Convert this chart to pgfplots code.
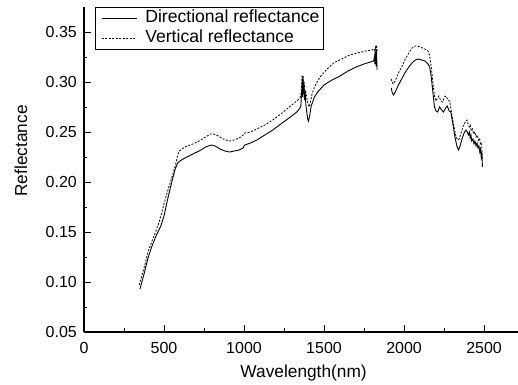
\documentclass[border=0pt]{standalone}
\usepackage{pgfplots}
\pgfplotsset{compat=1.18}
\usepackage{fontspec}
\setmainfont{Liberation Sans}
\begin{document}
\begin{tikzpicture}
\begin{axis}[
  scale only axis,
  width=434bp, height=325bp,
  xmin=0, xmax=2712, ymin=0.05, ymax=0.375,
  axis lines*=left,
  axis line style={line width=1.1bp},
  tick align=inside,
  major tick length=7bp, minor tick length=3.5bp,
  every tick/.style={black, line width=0.9bp},
  xtick={0,500,1000,1500,2000,2500},
  ytick={0.05,0.10,0.15,0.20,0.25,0.30,0.35},
  minor x tick num=1, minor y tick num=1,
  /pgf/number format/assume math mode=true,
  /pgf/number format/1000 sep={},
  yticklabel style={/pgf/number format/fixed, /pgf/number format/fixed zerofill, /pgf/number format/precision=2,
     font=\fontsize{16bp}{19bp}\selectfont, anchor=east, inner sep=0pt, xshift=-7bp},
  xticklabel style={font=\fontsize{16bp}{19bp}\selectfont, anchor=north, inner sep=0pt, yshift=-10bp},
  xlabel={Wavelength(nm)},
  ylabel={Reflectance},
  xlabel style={font=\fontsize{17.3bp}{20bp}\selectfont, at={(axis description cs:0.506,0)}, anchor=base, yshift=-45bp},
  ylabel style={font=\fontsize{17.3bp}{20bp}\selectfont, at={(axis description cs:-0.1313,0.557)}, anchor=base},
  unbounded coords=jump,
  legend cell align=left,
  legend style={at={(axis cs:0,0.375)}, anchor=north west, xshift=11bp,
     draw=black, line width=0.8bp, fill=white, inner xsep=2bp, inner ysep=1bp,
     font=\fontsize{17.6bp}{20bp}\selectfont, row sep=0bp, column sep=6bp,
     nodes={inner xsep=2bp, inner ysep=2bp, text height=12bp, text depth=4bp}},
  legend image code/.code={\path (0bp,0bp); \draw[#1] (4bp,0bp) -- (39bp,0bp);},
]
\addplot[black, line width=0.9bp] table {
350 0.093
375 0.108
400 0.124
425 0.136
450 0.146
480 0.156
500 0.166
520 0.181
550 0.201
570 0.213
585 0.219
600 0.221
630 0.224
680 0.228
720 0.231
760 0.235
795 0.237
820 0.236
850 0.233
880 0.231
910 0.230
940 0.231
970 0.232
995 0.234
1000 0.236
1005 0.237
1040 0.239
1080 0.242
1130 0.247
1180 0.252
1230 0.258
1290 0.265
1330 0.270
1350 0.274
1355 0.276
1360 0.290
1363 0.300
1366 0.285
1369 0.303
1372 0.288
1375 0.296
1378 0.282
1382 0.290
1386 0.278
1392 0.270
1398 0.263
1403 0.261
1410 0.266
1420 0.276
1440 0.285
1460 0.290
1500 0.297
1550 0.302
1600 0.306
1650 0.311
1700 0.315
1750 0.318
1790 0.320
1810 0.321
1815 0.325
1818 0.318
1822 0.330
1825 0.316
1828 0.333
1831 0.312
1875 nan
1920 0.294
1925 0.290
1930 0.288
1935 0.287
1945 0.290
1965 0.297
1985 0.303
2005 0.309
2030 0.315
2050 0.319
2070 0.322
2090 0.323
2110 0.322
2130 0.321
2150 0.318
2160 0.315
2170 0.305
2180 0.290
2190 0.275
2200 0.271
2210 0.270
2222 0.275
2235 0.272
2247 0.270
2260 0.274
2270 0.276
2282 0.271
2292 0.270
2305 0.258
2318 0.245
2330 0.236
2340 0.232
2350 0.236
2362 0.243
2375 0.249
2387 0.252
2395 0.250
2402 0.247
2408 0.250
2413 0.244
2418 0.247
2423 0.241
2430 0.243
2437 0.238
2443 0.241
2450 0.236
2456 0.239
2462 0.234
2468 0.236
2473 0.230
2478 0.233
2482 0.225
2486 0.228
2490 0.215
};
\addlegendentry{Directional reflectance}
\addplot[black, line width=0.8bp, dash pattern=on 2bp off 1.5bp] table {
345 0.097
375 0.114
400 0.130
425 0.141
445 0.149
470 0.160
490 0.172
510 0.184
530 0.195
550 0.205
570 0.216
585 0.226
595 0.231
630 0.235
680 0.238
720 0.241
760 0.245
790 0.248
810 0.248
840 0.246
870 0.243
910 0.241
940 0.242
970 0.244
995 0.247
1000 0.248
1005 0.249
1040 0.250
1080 0.253
1130 0.257
1180 0.262
1230 0.268
1290 0.276
1330 0.281
1350 0.284
1356 0.288
1360 0.298
1363 0.307
1366 0.292
1369 0.306
1372 0.294
1376 0.300
1380 0.288
1385 0.292
1392 0.284
1400 0.278
1408 0.275
1415 0.280
1425 0.288
1440 0.295
1460 0.301
1480 0.306
1520 0.313
1560 0.319
1610 0.323
1660 0.327
1710 0.329
1760 0.331
1800 0.332
1815 0.333
1818 0.329
1822 0.336
1825 0.330
1828 0.337
1831 0.331
1875 nan
1920 0.303
1925 0.300
1932 0.298
1945 0.301
1965 0.309
1985 0.315
2005 0.322
2030 0.329
2050 0.334
2070 0.336
2085 0.336
2100 0.335
2130 0.333
2150 0.331
2160 0.326
2170 0.315
2180 0.300
2190 0.286
2198 0.281
2210 0.284
2218 0.286
2230 0.281
2240 0.280
2252 0.285
2262 0.286
2275 0.282
2285 0.281
2298 0.268
2312 0.255
2325 0.245
2335 0.242
2345 0.243
2358 0.250
2370 0.256
2385 0.261
2393 0.262
2400 0.258
2407 0.255
2413 0.257
2420 0.251
2428 0.253
2435 0.248
2442 0.250
2450 0.245
2458 0.247
2465 0.242
2472 0.244
2478 0.237
2484 0.238
2488 0.228
2490 0.224
};
\addlegendentry{Vertical reflectance}
\end{axis}
\pgfresetboundingbox
\path (-84bp,-53bp) rectangle (434bp,332bp);
\end{tikzpicture}
\end{document}
